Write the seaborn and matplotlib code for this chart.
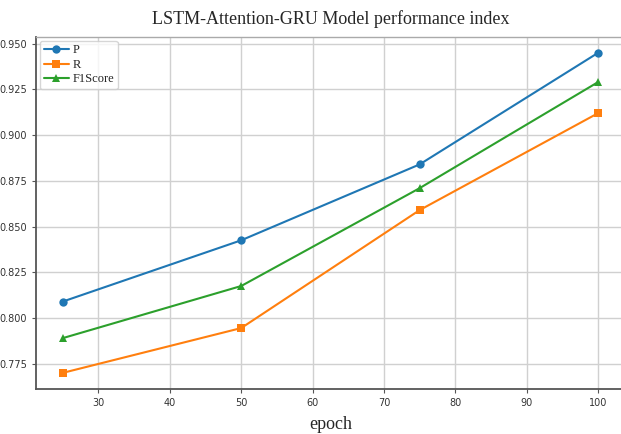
import matplotlib
matplotlib.use("Agg")
import matplotlib.pyplot as plt
import seaborn as sns
import pandas as pd

epochs = [25, 50, 75, 100]
p_vals = [0.809, 0.8425, 0.884, 0.945]
r_vals = [0.770, 0.7945, 0.859, 0.912]
f1_vals = [0.789, 0.8175, 0.871, 0.929]
series_names = ["P", "R", "F1Score"]

df = pd.DataFrame({
    "epoch": epochs * 3,
    "value": p_vals + r_vals + f1_vals,
    "metric": [series_names[0]] * 4 + [series_names[1]] * 4 + [series_names[2]] * 4,
})

sns.set_style("whitegrid", {
    "grid.color": "#d0d0d0",
    "axes.edgecolor": "#555555",
})
plt.rcParams["font.family"] = ["DejaVu Sans"]

fig = plt.figure(figsize=(6.21, 4.34), dpi=100)
ax = fig.add_axes([0.058, 0.104, 0.948, 0.811])

colors = ["#1f77b4", "#ff7f0e", "#2ca02c"]
sns.lineplot(data=df, x="epoch", y="value", hue="metric", style="metric",
             markers=["o", "s", "^"], dashes=False, palette=colors,
             markersize=6, linewidth=1.5, markeredgewidth=0, ax=ax)

ax.margins(x=0.05, y=0.05)
ax.set_xticks([30, 40, 50, 60, 70, 80, 90, 100])
ax.set_yticks([0.775, 0.800, 0.825, 0.850, 0.875, 0.900, 0.925, 0.950])
ax.set_yticklabels(["%.3f" % v for v in ax.get_yticks()])
ax.tick_params(axis="both", labelsize=7, length=3, color="#555555", colors="#333333")
ax.tick_params(axis="both", which="both", bottom=True, left=True)
ax.grid(True, color="#d0d0d0", linewidth=1)

for s in ["left", "bottom"]:
    ax.spines[s].set_linewidth(1.3)
    ax.spines[s].set_color("#555555")
for s in ["top", "right"]:
    ax.spines[s].set_linewidth(1.0)
    ax.spines[s].set_color("#aaaaaa")

ax.set_title("LSTM-Attention-GRU Model performance index",
             fontfamily="Liberation Serif", fontsize=13, pad=9)
ax.set_xlabel("epoch", fontfamily="Liberation Serif", fontsize=13, labelpad=6)
ax.set_ylabel("")

leg = ax.legend(loc="upper left", prop={"family": "Liberation Serif", "size": 9},
                frameon=True, borderpad=0.3, labelspacing=0.2, handlelength=2.0,
                handletextpad=0.3, borderaxespad=0.3)
leg.get_frame().set_edgecolor("#cccccc")

fig.savefig("out.png", dpi=100)
